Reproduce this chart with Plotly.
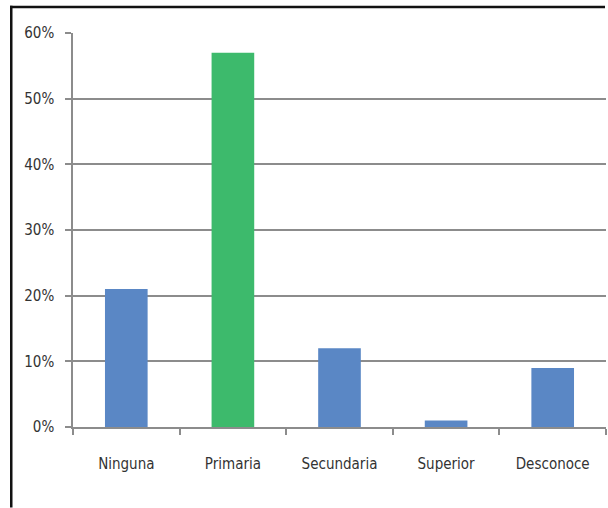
import plotly.graph_objects as go

# Nivel educativo (porcentaje de personas)
categories = ["Ninguna", "Primaria", "Secundaria", "Superior", "Desconoce"]
values = [0.21, 0.57, 0.12, 0.01, 0.09]
bar_colors = ["#5A87C5", "#3DBA6C", "#5A87C5", "#5A87C5", "#5A87C5"]
y_ticks = [0, 0.1, 0.2, 0.3, 0.4, 0.5, 0.6]
y_tick_labels = ["0%", "10%", "20%", "30%", "40%", "50%", "60%"]

W, H = 608, 508
L, R, T, B = 73, 2, 33, 81
pw, ph = W - L - R, H - T - B

fig = go.Figure(
    go.Bar(
        x=categories,
        y=values,
        marker=dict(color=bar_colors, line=dict(width=0)),
        width=0.4,
        hoverinfo="skip",
    )
)

font_family = "Liberation Sans Narrow, DejaVu Sans Condensed, Arial Narrow, sans-serif"
text_color = "#333333"

fig.update_layout(
    width=W,
    height=H,
    margin=dict(l=L, r=R, t=T, b=B, pad=0),
    paper_bgcolor="#FFFFFF",
    plot_bgcolor="#FFFFFF",
    showlegend=False,
    font=dict(family=font_family, color=text_color, size=15),
)

fig.update_yaxes(
    range=[0, 0.6],
    tickvals=y_ticks,
    ticktext=y_tick_labels,
    showgrid=True,
    gridcolor="#8C8C8C",
    gridwidth=1.5,
    showline=True,
    linecolor="#8C8C8C",
    linewidth=1.5,
    ticks="outside",
    ticklen=6,
    tickcolor="#8C8C8C",
    tickwidth=1.5,
    tickfont=dict(size=15, color=text_color),
    ticklabelstandoff=8,
    zeroline=False,
    fixedrange=True,
)

fig.update_xaxes(
    showline=True,
    linecolor="#8C8C8C",
    linewidth=1.5,
    ticks="outside",
    tickson="boundaries",
    ticklen=6,
    tickcolor="#8C8C8C",
    tickwidth=1.5,
    tickfont=dict(size=15, color=text_color),
    ticklabelstandoff=22,
    showgrid=False,
    fixedrange=True,
)

# Marco negro del gráfico (bordes superior e izquierdo) como bandas rellenas
def px_x(p):
    return (p - L) / pw

def px_y(p):
    return 1 - (p - T) / ph

frame_color = "#111111"
# borde izquierdo
fig.add_shape(type="rect", xref="paper", yref="paper",
              x0=px_x(10), x1=px_x(12.5), y0=px_y(H - 0.5), y1=px_y(5.8),
              fillcolor=frame_color, line=dict(width=0), layer="above")
# borde superior
fig.add_shape(type="rect", xref="paper", yref="paper",
              x0=px_x(10), x1=px_x(W - 3), y0=px_y(8.3), y1=px_y(5.8),
              fillcolor=frame_color, line=dict(width=0), layer="above")

fig.write_html("out.html")
